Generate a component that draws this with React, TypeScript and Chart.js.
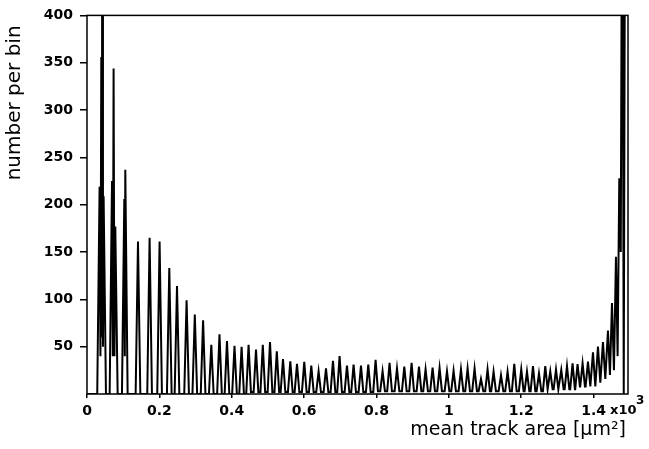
import React, { useEffect, useRef } from 'react';
import { Chart, registerables } from 'chart.js';
Chart.register(...registerables);

// Peak positions (x10^3 µm²) and heights (number per bin)
const peakX = [
  0.0348, 0.0395, 0.0423, 0.0459,
  0.0691, 0.0735, 0.0782,
  0.1031, 0.1058,
  0.1409, 0.1730, 0.2006, 0.2274, 0.2487, 0.2752, 0.2979, 0.3208, 0.3435, 0.3661,
  0.3868, 0.4076, 0.4272, 0.4465, 0.4670, 0.4858, 0.5057, 0.5245, 0.5416, 0.5618,
  0.5803, 0.6004, 0.6198, 0.6400, 0.6604, 0.6797, 0.6980, 0.7184, 0.7367, 0.7571,
  0.7773, 0.7975, 0.8168, 0.8361, 0.8566, 0.8768, 0.8970, 0.9174, 0.9356, 0.9550,
  0.9743, 0.9948, 1.0130, 1.0334, 1.0517, 1.0710, 1.0887, 1.1069, 1.1235, 1.1440,
  1.1622, 1.1807, 1.2000, 1.2158, 1.2324, 1.2490, 1.2664, 1.2802, 1.2960, 1.3106,
  1.3264, 1.3418, 1.3556, 1.3695, 1.3844, 1.3982, 1.4120, 1.4258, 1.4396, 1.4507,
  1.4617, 1.4709, 1.4791, 1.4874,
];
const peakY = [
  219, 356, 640, 209,
  225, 344, 177,
  206, 237,
  161, 165, 161, 133, 114, 99, 84, 78, 52, 63,
  56, 51, 50, 52, 47, 52, 55, 45, 37, 34.5,
  32, 34, 30, 24, 27, 35, 40, 30, 31, 30,
  31, 36, 24, 33, 27, 29, 33, 29, 26, 28,
  27.5, 24, 24.5, 26, 27, 27, 16, 26, 23.6, 20,
  23.6, 32, 26, 23.6, 29.6, 21.7, 29.5, 24, 26, 25.5,
  29.6, 32.4, 31.5, 32.4, 34.3, 44, 50, 55, 67, 96,
  145, 228, 640, 640,
];
// trough level before each peak (last entry: after the last peak)
const troughY = [
  0, 40, 60, 50,
  0, 40, 40,
  0, 40,
  0, 0, 0, 0, 0, 0, 0, 0, 0, 0,
  0, 0, 0, 0, 2, 2, 2, 2, 2, 2,
  2, 2, 2, 2, 2, 2, 2, 2, 2, 2,
  2, 2, 3, 3, 3, 3, 3, 3, 3, 3,
  3, 3, 3, 3, 3, 3, 3, 3, 3, 3,
  3, 3, 3, 3, 3, 3, 3, 5, 5, 5,
  5, 5, 5, 8, 8, 8, 8, 12, 16, 20,
  25, 40, 150, 0,
];

const xTickValues = [0, 0.2, 0.4, 0.6, 0.8, 1, 1.2, 1.4];
const xTickLabels = ['0', '0.2', '0.4', '0.6', '0.8', '1', '1.2', '1.4'];
const yTickValues = [50, 100, 150, 200, 250, 300, 350, 400];
const xAxisTitle = 'mean track area [\u03BCm\u00B2]';
const yAxisTitle = 'number per bin';
const xExponentBase = 'x10';
const xExponentPower = '3';
const X_MIN = 0;
const X_MAX = 1.495;
const Y_MIN = 0;
const Y_MAX = 400;

function buildPoints() {
  const hw = 0.0065;
  const pts: { x: number; y: number }[] = [{ x: X_MIN, y: troughY[0] }];
  for (let i = 0; i < peakX.length; i++) {
    const p = peakX[i];
    const prev = i > 0 ? peakX[i - 1] : -Infinity;
    if (p - prev > 2 * hw) pts.push({ x: p - hw, y: troughY[i] });
    else pts.push({ x: (p + prev) / 2, y: troughY[i] });
    pts.push({ x: p, y: peakY[i] });
    const next = i < peakX.length - 1 ? peakX[i + 1] : Infinity;
    if (next - p > 2 * hw) pts.push({ x: p + hw, y: troughY[i + 1] });
  }
  return pts;
}

const TICK_FONT = { family: 'DejaVu Sans', weight: 'bold' as const, size: 14 };

const framePlugin = {
  id: 'frameAndTitles',
  afterDatasetsDraw(chart: any) {
    const { ctx, chartArea } = chart;
    ctx.save();
    ctx.strokeStyle = '#000';
    ctx.lineWidth = 1.5;
    ctx.strokeRect(chartArea.left, chartArea.top, chartArea.right - chartArea.left, chartArea.bottom - chartArea.top);
    ctx.restore();
  },
  afterDraw(chart: any) {
    const { ctx, chartArea } = chart;
    ctx.save();
    ctx.fillStyle = '#000';
    // x axis title
    ctx.font = '19px "DejaVu Sans"';
    ctx.textAlign = 'right';
    ctx.textBaseline = 'middle';
    ctx.fillText(xAxisTitle, chartArea.right - 2, 430);
    // y axis title
    ctx.save();
    ctx.translate(15, chartArea.top + 10);
    ctx.rotate(-Math.PI / 2);
    ctx.font = '20px "DejaVu Sans"';
    ctx.textAlign = 'right';
    ctx.textBaseline = 'middle';
    ctx.fillText(yAxisTitle, 0, 0);
    ctx.restore();
    // exponent
    ctx.font = 'bold 13px "DejaVu Sans"';
    ctx.textAlign = 'left';
    ctx.textBaseline = 'middle';
    ctx.fillText(xExponentBase, 610, 411);
    ctx.font = 'bold 12px "DejaVu Sans"';
    ctx.fillText(xExponentPower, 636, 401);
    ctx.restore();
  },
};

export default function App() {
  const ref = useRef<HTMLCanvasElement | null>(null);
  useEffect(() => {
    if (!ref.current) return;
    const chart = new Chart(ref.current, {
      type: 'line',
      data: {
        datasets: [
          {
            data: buildPoints(),
            borderColor: '#000',
            borderWidth: 2,
            pointRadius: 0,
            tension: 0,
            fill: false,
          },
        ],
      },
      options: {
        animation: false,
        responsive: true,
        maintainAspectRatio: false,
        devicePixelRatio: 1,
        parsing: false,
        layout: { padding: { top: 15, right: 21, left: 0, bottom: 0 } },
        plugins: { legend: { display: false }, tooltip: { enabled: false } },
        scales: {
          x: {
            type: 'linear',
            min: X_MIN,
            max: X_MAX,
            afterBuildTicks: (scale: any) => {
              scale.ticks = xTickValues.map((v) => ({ value: v }));
            },
            afterFit: (scale: any) => {
              scale.height = 55;
            },
            ticks: {
              autoSkip: false,
              maxRotation: 0,
              padding: 5,
              color: '#000',
              font: TICK_FONT,
              callback: (v: any) => {
                const i = xTickValues.findIndex((t) => Math.abs(t - Number(v)) < 1e-9);
                return i >= 0 ? xTickLabels[i] : '';
              },
            },
            grid: { drawOnChartArea: false, drawTicks: true, tickLength: 4, color: '#000', lineWidth: 1.5 },
            border: { display: false },
          },
          y: {
            type: 'linear',
            min: Y_MIN,
            max: Y_MAX,
            afterBuildTicks: (scale: any) => {
              scale.ticks = yTickValues.map((v) => ({ value: v }));
            },
            afterFit: (scale: any) => {
              scale.width = 87;
            },
            ticks: {
              autoSkip: false,
              padding: 7,
              color: '#000',
              font: TICK_FONT,
              callback: (v: any) => String(v),
            },
            grid: { drawOnChartArea: false, drawTicks: true, tickLength: 7, color: '#000', lineWidth: 1.5 },
            border: { display: false },
          },
        },
      } as any,
      plugins: [framePlugin],
    });
    return () => chart.destroy();
  }, []);
  return (
    <div style={{ position: 'absolute', left: 0, top: 0, width: 649, height: 449, background: '#fff' }}>
      <canvas ref={ref} />
    </div>
  );
}
